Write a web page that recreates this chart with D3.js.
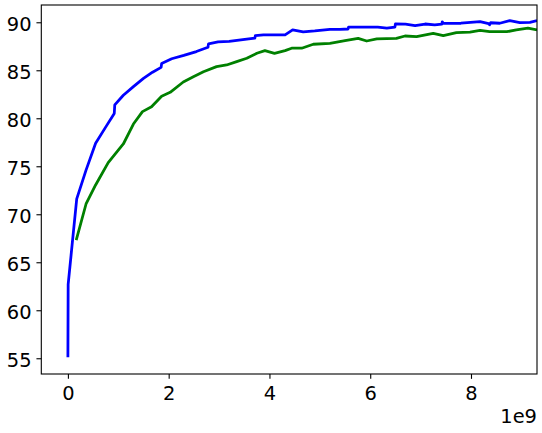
<!DOCTYPE html>
<html>
<head>
<meta charset="utf-8">
<script src="https://cdn.jsdelivr.net/npm/d3@7"></script>
<style>
html, body { margin: 0; padding: 0; background: #fff; }
svg { display: block; }
text { font-family: "DejaVu Sans", sans-serif; fill: #000; }
</style>
</head>
<body>
<script>
// x values in units of 1e9
const blueX = [0, 0.005, 0.175, 0.36, 0.55, 0.74, 0.92, 0.93, 1.1, 1.3, 1.5, 1.68, 1.85, 1.86, 2.06, 2.3, 2.55, 2.78, 2.79, 2.98, 3.2, 3.55, 3.71, 3.72, 3.88, 4.31, 4.46, 4.67, 4.9, 5.2, 5.4, 5.56, 5.57, 5.9, 6.15, 6.33, 6.49, 6.5, 6.7, 6.89, 7.09, 7.28, 7.42, 7.43, 7.45, 7.8, 8.18, 8.35, 8.37, 8.39, 8.57, 8.77, 8.97, 9.17, 9.31];
const blueY = [55.1, 62.7, 71.6, 74.6, 77.4, 79.0, 80.5, 81.4, 82.4, 83.3, 84.15, 84.8, 85.3, 85.7, 86.2, 86.55, 86.95, 87.4, 87.75, 87.95, 88.0, 88.25, 88.35, 88.6, 88.68, 88.68, 89.2, 89.0, 89.1, 89.27, 89.25, 89.3, 89.5, 89.5, 89.5, 89.4, 89.5, 89.82, 89.8, 89.65, 89.82, 89.72, 89.8, 90.05, 89.88, 89.9, 90.07, 89.85, 89.75, 89.95, 89.9, 90.17, 89.96, 90.0, 90.17];
const greenX = [0.165, 0.36, 0.55, 0.8, 1.1, 1.3, 1.48, 1.66, 1.86, 2.03, 2.29, 2.49, 2.69, 2.95, 3.15, 3.35, 3.55, 3.75, 3.91, 4.1, 4.31, 4.44, 4.64, 4.87, 5.2, 5.5, 5.76, 5.93, 6.13, 6.52, 6.69, 6.92, 7.25, 7.45, 7.71, 7.98, 8.18, 8.37, 8.71, 8.9, 9.13, 9.31];
const greenY = [67.3, 71.07, 73.05, 75.38, 77.32, 79.4, 80.69, 81.2, 82.3, 82.7, 83.78, 84.33, 84.85, 85.38, 85.55, 85.9, 86.25, 86.77, 87.04, 86.77, 87.05, 87.3, 87.3, 87.71, 87.81, 88.08, 88.33, 88.05, 88.26, 88.33, 88.57, 88.5, 88.85, 88.6, 88.92, 88.98, 89.15, 89.02, 89.02, 89.2, 89.38, 89.2];
const xTicks = [0, 2, 4, 6, 8];
const yTicks = [55, 60, 65, 70, 75, 80, 85, 90];
const offsetLabel = "1e9";

const W = 542, H = 433;
const L = 41.3, R = 537, T = 5, B = 374;
const fs = 19.44;

const x = d3.scaleLinear().domain([-0.528, 9.31]).range([L, R]);
const y = d3.scaleLinear().domain([53.36, 91.8]).range([B, T]);

const svg = d3.select("body").append("svg").attr("width", W).attr("height", H);

svg.append("defs").append("clipPath").attr("id", "clip")
  .append("rect").attr("x", L).attr("y", T).attr("width", R - L).attr("height", B - T);

const line = d3.line().x(d => x(d[0])).y(d => y(d[1]));
const blue = blueX.map((v, i) => [v, blueY[i]]);
const green = greenX.map((v, i) => [v, greenY[i]]);

const g = svg.append("g").attr("clip-path", "url(#clip)");
g.append("path").datum(blue).attr("d", line).attr("fill", "none")
  .attr("stroke", "#0000ff").attr("stroke-width", 2.78).attr("stroke-linejoin", "round").attr("stroke-linecap", "butt");
g.append("path").datum(green).attr("d", line).attr("fill", "none")
  .attr("stroke", "#008000").attr("stroke-width", 2.78).attr("stroke-linejoin", "round").attr("stroke-linecap", "butt");

// axes
const xAxis = d3.axisBottom(x).tickValues(xTicks).tickSize(4.86).tickPadding(4.86).tickFormat(d3.format("d"));
const yAxis = d3.axisLeft(y).tickValues(yTicks).tickSize(4.86).tickPadding(4.86).tickFormat(d3.format("d"));

const gx = svg.append("g").attr("transform", `translate(0,${B})`).call(xAxis);
const gy = svg.append("g").attr("transform", `translate(${L},0)`).call(yAxis);
[gx, gy].forEach(a => {
  a.select(".domain").remove();
  a.selectAll(".tick line").attr("stroke", "#000").attr("stroke-width", 1.1);
  a.selectAll(".tick text").attr("font-size", fs).attr("font-family", "DejaVu Sans").attr("fill", "#000");
});
gx.selectAll(".tick text").attr("dy", null).attr("y", 25.5);
gy.selectAll(".tick text").attr("dy", null).attr("y", 8.7);

// spines
svg.append("rect").attr("x", L).attr("y", T).attr("width", R - L).attr("height", B - T)
  .attr("fill", "none").attr("stroke", "#000").attr("stroke-width", 1.1);

svg.append("text").attr("x", R).attr("y", 423).attr("text-anchor", "end")
  .attr("font-size", fs).text(offsetLabel);
</script>
</body>
</html>
